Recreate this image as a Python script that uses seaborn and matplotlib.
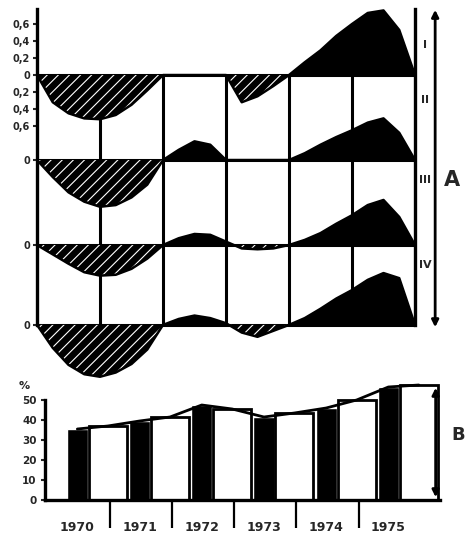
import numpy as np
import seaborn as sns
from matplotlib import pyplot as plt

years = ["1970", "1971", "1972", "1973", "1974", "1975"]

quarter = np.arange(0, 6.25, 0.25)
curve_i = [0, -0.32, -0.45, -0.51, -0.52, -0.47, -0.35, -0.18, 0,
           0, 0, 0, 0, -0.32, -0.25, -0.13, 0,
           0.15, 0.29, 0.46, 0.60, 0.73, 0.76, 0.53, 0]
curve_ii = [0, -0.20, -0.38, -0.49, -0.55, -0.53, -0.44, -0.29, 0,
            0.12, 0.22, 0.18, 0, 0, 0, 0, 0,
            0.08, 0.18, 0.27, 0.35, 0.44, 0.49, 0.32, 0]
curve_iii = [0, -0.11, -0.22, -0.32, -0.36, -0.35, -0.28, -0.16, 0,
             0.08, 0.13, 0.12, 0.04, -0.04, -0.05, -0.04, 0,
             0.06, 0.14, 0.25, 0.35, 0.47, 0.53, 0.33, 0]
curve_iv = [0, -0.27, -0.47, -0.58, -0.61, -0.56, -0.46, -0.29, 0,
            0.07, 0.11, 0.08, 0.02, -0.09, -0.14, -0.07, 0,
            0.08, 0.19, 0.31, 0.41, 0.53, 0.61, 0.55, 0]
row_names = ["I", "II", "III", "IV"]
row_base = [0.0, -1.0, -2.0, -2.94]
a_ticks = [0.6, 0.4, 0.2, 0, -0.2, -0.4, -0.6]
a_tick_labels = ["0,6", "0,4", "0,2", "0", "0,2", "0,4", "0,6"]

# section B: two bars per year, %
dark_bars = [35.5, 39.5, 47.5, 41.5, 46, 56.5]
light_bars = [37, 41.5, 45.5, 43.5, 50, 57.5]
b_ticks = [0, 10, 20, 30, 40, 50]

sns.set_theme(style="white")
plt.rcParams["font.family"] = ["DejaVu Sans"]
plt.rcParams["font.weight"] = "bold"
plt.rcParams["hatch.linewidth"] = 0.8

fig = plt.figure(figsize=(4.77, 5.55), dpi=100)

# ---- panel A
ax = fig.add_axes([37 / 477, 170 / 555, 378 / 477, 380 / 555])
ax.set_xlim(0, 6)
ax.set_ylim(-3.647, 0.824)
for side in ["top", "bottom"]:
    ax.spines[side].set_visible(False)
for side in ["left", "right"]:
    ax.spines[side].set_bounds(row_base[-1], 0.78)
    ax.spines[side].set_linewidth(2.4)
    ax.spines[side].set_color("black")
ax.set_xticks([])
ax.set_yticks(a_ticks + row_base[1:])
ax.set_yticklabels(a_tick_labels + ["0", "0", "0"])
ax.tick_params(axis="y", left=True, length=3, width=1.5, labelsize=7, pad=2)

ax.vlines(range(1, 6), row_base[-1], 0, color="black", lw=2.2, zorder=1)
ax.hlines(row_base, 0, 6, color="black", lw=2.2, zorder=1)

for base, curve in zip(row_base, [curve_i, curve_ii, curve_iii, curve_iv]):
    vals = base + np.array(curve)
    ax.fill_between(quarter, base, vals, where=vals <= base, interpolate=True,
                    facecolor="black", edgecolor="white", hatch="///",
                    linewidth=0, zorder=2)
    ax.fill_between(quarter, base, vals, where=vals >= base, interpolate=True,
                    facecolor="black", linewidth=0, zorder=2)
    sns.lineplot(x=quarter, y=vals, color="black", lw=1.8, ax=ax, zorder=3)

for name, y in zip(row_names, [0.35, -0.29, -1.24, -2.24]):
    ax.text(6.16, y, name, ha="center", va="center", fontsize=8, clip_on=False)
ax.text(6.58, -1.24, "A", ha="center", va="center", fontsize=15, clip_on=False)
ax.annotate("", xy=(6.32, 0.8), xytext=(6.32, -3.0), annotation_clip=False,
            arrowprops=dict(arrowstyle="<|-|>", lw=2, color="black",
                            mutation_scale=10))

# ---- panel B
axb = fig.add_axes([45 / 477, 55 / 555, 395 / 477, 120 / 555])
dark_pos = np.arange(len(years)) + 0.17
light_pos = np.arange(len(years)) + 0.66
sns.barplot(x=dark_pos, y=dark_bars, native_scale=True, orient="x", width=0.34,
            color="black", saturation=1, ax=axb)
sns.barplot(x=light_pos, y=light_bars, native_scale=True, orient="x", width=0.61,
            color="white", edgecolor="black", linewidth=2, saturation=1, ax=axb)
top_pos = np.ravel(np.column_stack([dark_pos, light_pos]))
top_vals = np.ravel(np.column_stack([dark_bars, light_bars]))
sns.lineplot(x=top_pos, y=top_vals, color="black", lw=2, ax=axb)

axb.set_xlim(-0.35, 6.0)
axb.set_ylim(0, 60)
axb.spines["top"].set_visible(False)
axb.spines["right"].set_visible(False)
axb.spines["left"].set_bounds(0, 50)
for side in ["left", "bottom"]:
    axb.spines[side].set_linewidth(2.4)
    axb.spines[side].set_color("black")
axb.set_yticks(b_ticks)
axb.set_yticklabels([str(v) for v in b_ticks])
axb.tick_params(axis="y", left=True, length=3, width=1.5, labelsize=7.5, pad=3)
axb.set_xticks(dark_pos)
axb.set_xticklabels(years)
axb.tick_params(axis="x", length=0, labelsize=9, pad=15)
axb.text(-0.68, 57, "%", ha="center", va="center", fontsize=8)
axb.vlines(np.arange(5) + 0.69, -14, 0, color="black", lw=1.6, clip_on=False)
axb.annotate("", xy=(5.93, 57.5), xytext=(5.93, 0), annotation_clip=False,
             arrowprops=dict(arrowstyle="<|-|>", lw=2, color="black",
                             mutation_scale=10))
axb.text(6.29, 32.5, "B", ha="center", va="center", fontsize=13, clip_on=False)

fig.savefig("out.png", dpi=100)
